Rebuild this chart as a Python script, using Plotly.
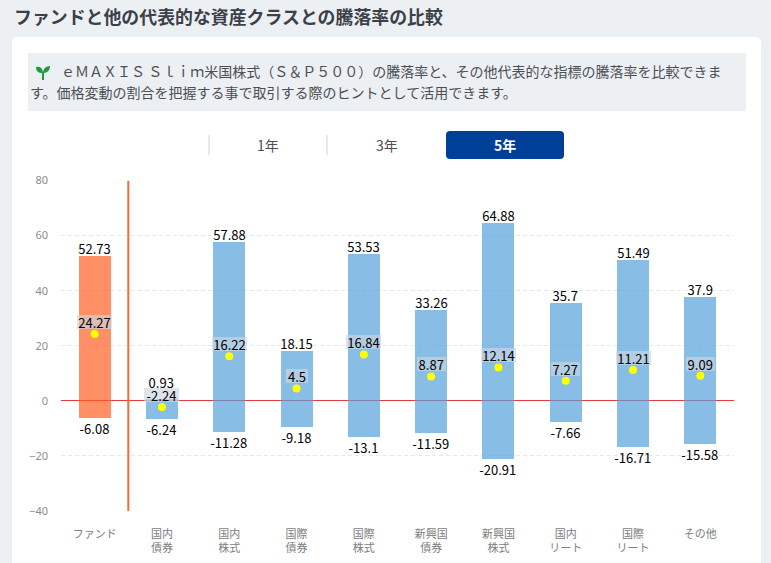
import plotly.graph_objects as go

W, H = 771, 563
FONT = "Noto Sans CJK JP"

categories = ["ファンド", "国内<br>債券", "国内<br>株式", "国際<br>債券", "国際<br>株式",
              "新興国<br>債券", "新興国<br>株式", "国内<br>リート", "国際<br>リート", "その他"]
highs = [52.73, 0.93, 57.88, 18.15, 53.53, 33.26, 64.88, 35.7, 51.49, 37.9]
lows = [-6.08, -6.24, -11.28, -9.18, -13.1, -11.59, -20.91, -7.66, -16.71, -15.58]
avgs = [24.27, -2.24, 16.22, 4.5, 16.84, 8.87, 12.14, 7.27, 11.21, 9.09]
y_ticks = [-40, -20, 0, 20, 40, 60, 80]

title_text = "ファンドと他の代表的な資産クラスとの騰落率の比較"
desc_line1 = "ｅＭＡＸＩＳ Ｓｌｉｍ米国株式（Ｓ＆Ｐ５００）の騰落率と、その他代表的な指標の騰落率を比較できま"
desc_line2 = "す。価格変動の割合を把握する事で取引する際のヒントとして活用できます。"


def px(x):
    return x / W


def py(y):
    return 1 - y / H


def round_rect(x0, y0, x1, y1, r):
    # 角丸の四角をピクセル指定でpathにする
    return (f"M {px(x0 + r)} {py(y0)} L {px(x1 - r)} {py(y0)} "
            f"Q {px(x1)} {py(y0)} {px(x1)} {py(y0 + r)} L {px(x1)} {py(y1 - r)} "
            f"Q {px(x1)} {py(y1)} {px(x1 - r)} {py(y1)} L {px(x0 + r)} {py(y1)} "
            f"Q {px(x0)} {py(y1)} {px(x0)} {py(y1 - r)} L {px(x0)} {py(y0 + r)} "
            f"Q {px(x0)} {py(y0)} {px(x0 + r)} {py(y0)} Z")


def page_text(x, y, text, size, color, anchor="left", bold=False):
    return dict(xref="paper", yref="paper", x=px(x), y=py(y), text=f"<b>{text}</b>" if bold else text,
                showarrow=False, xanchor=anchor, yanchor="middle",
                font=dict(family=FONT, size=size, color=color))


def value_label(cat, v, shift, bg=None):
    # 値ラベルは点や棒の端からピクセルでずらす
    label = str(v)
    return dict(x=cat, y=v, xref="x", yref="y", text=label, showarrow=False, yshift=shift,
                width=6.5 * len(label) + 2.5, height=14, borderwidth=0, borderpad=0,
                bgcolor=bg or "rgba(0,0,0,0)",
                font=dict(family=FONT, size=13, color="#000000"))


fig = go.Figure()

# 騰落率の幅 (ファンドだけオレンジ) 0の線が透けるように半透明
bar_colors = ["#ff6024"] + ["#55a1db"] * (len(categories) - 1)
fig.add_trace(go.Bar(x=categories, y=[h - l for h, l in zip(highs, lows)], base=lows,
                     width=0.475, marker=dict(color=bar_colors, opacity=0.7, line_width=0)))

# 平均の点
fig.add_trace(go.Scatter(x=categories, y=avgs, mode="markers",
                         marker=dict(color="#ffff00", size=8, line_width=0)))

annotations = [
    page_text(12, 16, title_text, 17.9, "#3a4149", bold=True),
    page_text(59, 71, desc_line1, 14, "#4a4f55"),
    page_text(28, 92, desc_line2, 14, "#4a4f55"),
    page_text(268, 145, "1年", 14, "#4a4f55", anchor="center"),
    page_text(387, 145, "3年", 14, "#4a4f55", anchor="center"),
    page_text(505, 145, "5年", 14, "#ffffff", anchor="center", bold=True),
]
for cat, hi, lo, avg in zip(categories, highs, lows, avgs):
    # 国内債券は平均のラベルと重なるので上に逃がす
    annotations.append(value_label(cat, hi, 16 if cat == "国内<br>債券" else 7.5))
    annotations.append(value_label(cat, lo, -10.5))
    annotations.append(value_label(cat, avg, 12, bg="rgba(205,213,225,0.65)"))

shapes = [
    dict(type="path", path=round_rect(12, 37, 761, 620, 6), xref="paper", yref="paper",
         fillcolor="#ffffff", line_width=0, layer="below"),
    dict(type="rect", x0=px(28), x1=px(746), y0=py(111), y1=py(53), xref="paper", yref="paper",
         fillcolor="#edf0f3", line_width=0, layer="below"),
    # 若葉アイコン
    dict(type="path", xref="paper", yref="paper", fillcolor="#1f9d3c", line_width=0, layer="below",
         path=(f"M {px(42)} {py(73)} Q {px(36)} {py(73)} {px(36)} {py(67)} Q {px(42)} {py(66)} {px(43)} {py(72)} "
               f"Q {px(44)} {py(66)} {px(50)} {py(66)} Q {px(50)} {py(72)} {px(44)} {py(73)} "
               f"L {px(44)} {py(80)} L {px(42)} {py(80)} Z")),
    # 期間ボタン
    dict(type="line", x0=px(209), x1=px(209), y0=py(155), y1=py(135), xref="paper", yref="paper",
         line=dict(color="#cfd5db", width=1), layer="below"),
    dict(type="line", x0=px(327), x1=px(327), y0=py(155), y1=py(135), xref="paper", yref="paper",
         line=dict(color="#cfd5db", width=1), layer="below"),
    dict(type="path", path=round_rect(446, 131, 564, 159, 4), xref="paper", yref="paper",
         fillcolor="#003f98", line_width=0, layer="below"),
    # ファンドの区切り線
    dict(type="line", x0=0.5, x1=0.5, xref="x", y0=-40, y1=80, yref="y",
         line=dict(color="#f26b3a", width=2), layer="above"),
]

fig.update_layout(
    width=W, height=H, margin=dict(l=0, r=0, t=0, b=0, autoexpand=False), autosize=False,
    paper_bgcolor="#edf0f3", plot_bgcolor="rgba(0,0,0,0)", showlegend=False, bargap=0,
    annotations=annotations, shapes=shapes,
    font=dict(family=FONT, size=11, color="#7d7d7d"),
)
fig.update_xaxes(domain=[px(61), px(734)], type="category", range=[-0.5, 9.5], showgrid=False,
                 zeroline=False, showline=False, ticks="", ticklabelstandoff=15,
                 tickfont=dict(family=FONT, size=11, color="#7d7d7d"))
fig.update_yaxes(domain=[py(511), py(180.5)], range=[-40, 80], tickvals=y_ticks,
                 zeroline=True, zerolinecolor="#e23c3c", zerolinewidth=1,
                 showgrid=True, gridcolor="#e8e8e8", griddash="4px,3px", gridwidth=1, showline=False,
                 ticks="", ticklabelstandoff=12, tickfont=dict(family="Noto Sans", size=11, color="#8c8c8c"))

fig.write_html("out.html", post_script="document.body.style.margin='0';document.body.style.overflow='hidden';",
               config={"displayModeBar": False})
